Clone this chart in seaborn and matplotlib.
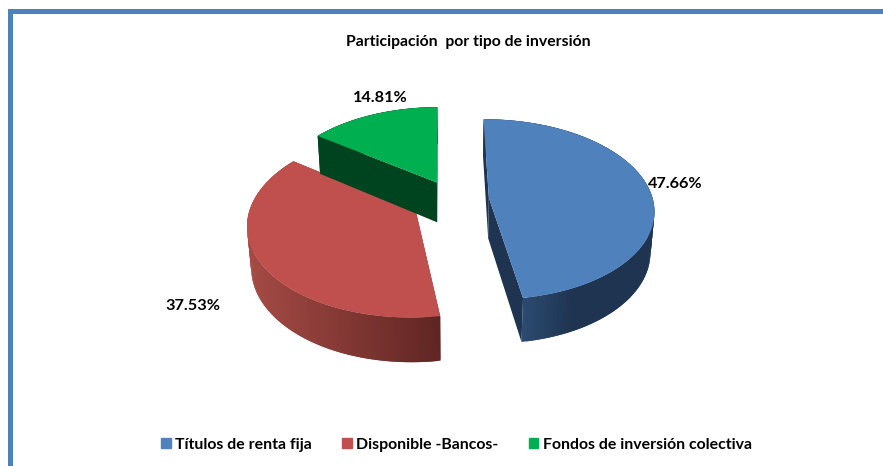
import numpy as np
import seaborn as sns
import matplotlib.pyplot as plt
from matplotlib.patches import Patch, Rectangle

# Data
categories = ['Títulos de renta fija', 'Disponible -Bancos-', 'Fondos de inversión colectiva']
shares = [47.66, 37.53, 14.81]
share_labels = ['47.66%', '37.53%', '14.81%']

sns.set_theme(style='white')
plt.rcParams['font.family'] = ['Lato', 'DejaVu Sans']

palette = sns.color_palette(['#4f81bd', '#c0504d', '#00b050'])
rim_light = ['#2b4a70', '#a44a44', '#00441f']
rim_dark = ['#1f3450', '#5f2523', '#00441f']
face_dark = ['#1f3450', '#5f2523', '#00441f']

# view of the fake 3D pie, in pixels
cx, cy = 453, 199.5
rad_x, rad_y = 164, 89
persp = 0.127
depth = 40.5
shrink = 0.02


def project(u, v, z=0):
    d = 1 + persp * v + shrink * z
    return cx + rad_x * u / d, cy - rad_y * v / d + depth * z / (1 + persp * v)


fig, ax = plt.subplots(figsize=(8.83, 4.66), dpi=100)
fig.subplots_adjust(left=0, right=1, bottom=0, top=1)

# the pie gives the angles and the explode offsets
wedges, _ = ax.pie(shares, colors=palette, startangle=90.5, counterclock=False,
                   explode=[0.22, 0.26, 0.22], radius=1)
ax.set_aspect('auto')
ax.set_xlim(0, 883)
ax.set_ylim(466, 0)
ax.axis('off')

for i in [2, 1, 0]:
    w = wedges[i]
    w.set_visible(False)
    ox, oy = w.center
    th = np.radians(np.linspace(w.theta1, w.theta2, 120))
    u = ox + np.cos(th)
    v = oy + np.sin(th)

    # outer rim, shaded along the arc (strips overlap to hide seams)
    c0 = np.array(sns.desaturate(rim_light[i], 1))
    c1 = np.array(sns.desaturate(rim_dark[i], 1))
    order = np.arange(len(th) - 2)
    for k in order:
        pts = [project(u[k], v[k]), project(u[k + 2], v[k + 2]),
               project(u[k + 2], v[k + 2], 1), project(u[k], v[k], 1)]
        xs = project(u[k], v[k])[0]
        if i == 1:
            t = np.clip((xs - 250) / 190, 0, 1)
        else:
            t = np.clip((xs - 522) / 50, 0, 1)
        ax.fill(*zip(*pts), color=tuple(c0 + (c1 - c0) * t), lw=0, zorder=i + 1)

    # radial side faces
    for k in [0, -1]:
        pts = [project(ox, oy), project(u[k], v[k]), project(u[k], v[k], 1), project(ox, oy, 1)]
        ax.fill(*zip(*pts), color=face_dark[i], lw=0, zorder=i + 1)

    # top face
    top = [project(ox, oy)] + [project(a, b) for a, b in zip(u, v)]
    ax.fill(*zip(*top), color=palette[i], lw=0, zorder=i + 1)

# frame lines at top and left
frame_color = '#4f81bd'
ax.add_patch(Rectangle((8, 9), 875, 4.5, color=frame_color, lw=0, zorder=10))
ax.add_patch(Rectangle((8, 9), 4.5, 457, color=frame_color, lw=0, zorder=10))

ax.text(468, 42, 'Participación  por tipo de inversión', ha='center', va='center',
        fontsize=11.3, fontweight='bold', color='black')
label_pos = [(675.5, 184), (193, 306), (380, 98)]
for lab, (x, y) in zip(share_labels, label_pos):
    ax.text(x, y, lab, ha='center', va='center', fontsize=11.7, fontweight='bold', color='black', zorder=11)

handles = [Patch(color=c, label=n) for c, n in zip(palette, categories)]
ax.legend(handles=handles, ncol=3, loc='center', bbox_to_anchor=(456.5 / 883, 1 - 445 / 466),
          frameon=False, prop={'size': 11.4, 'weight': 'bold'}, handlelength=0.6, handleheight=0.6,
          handletextpad=0.3, columnspacing=1.9, labelcolor='black')

fig.savefig('out.png', dpi=100)
